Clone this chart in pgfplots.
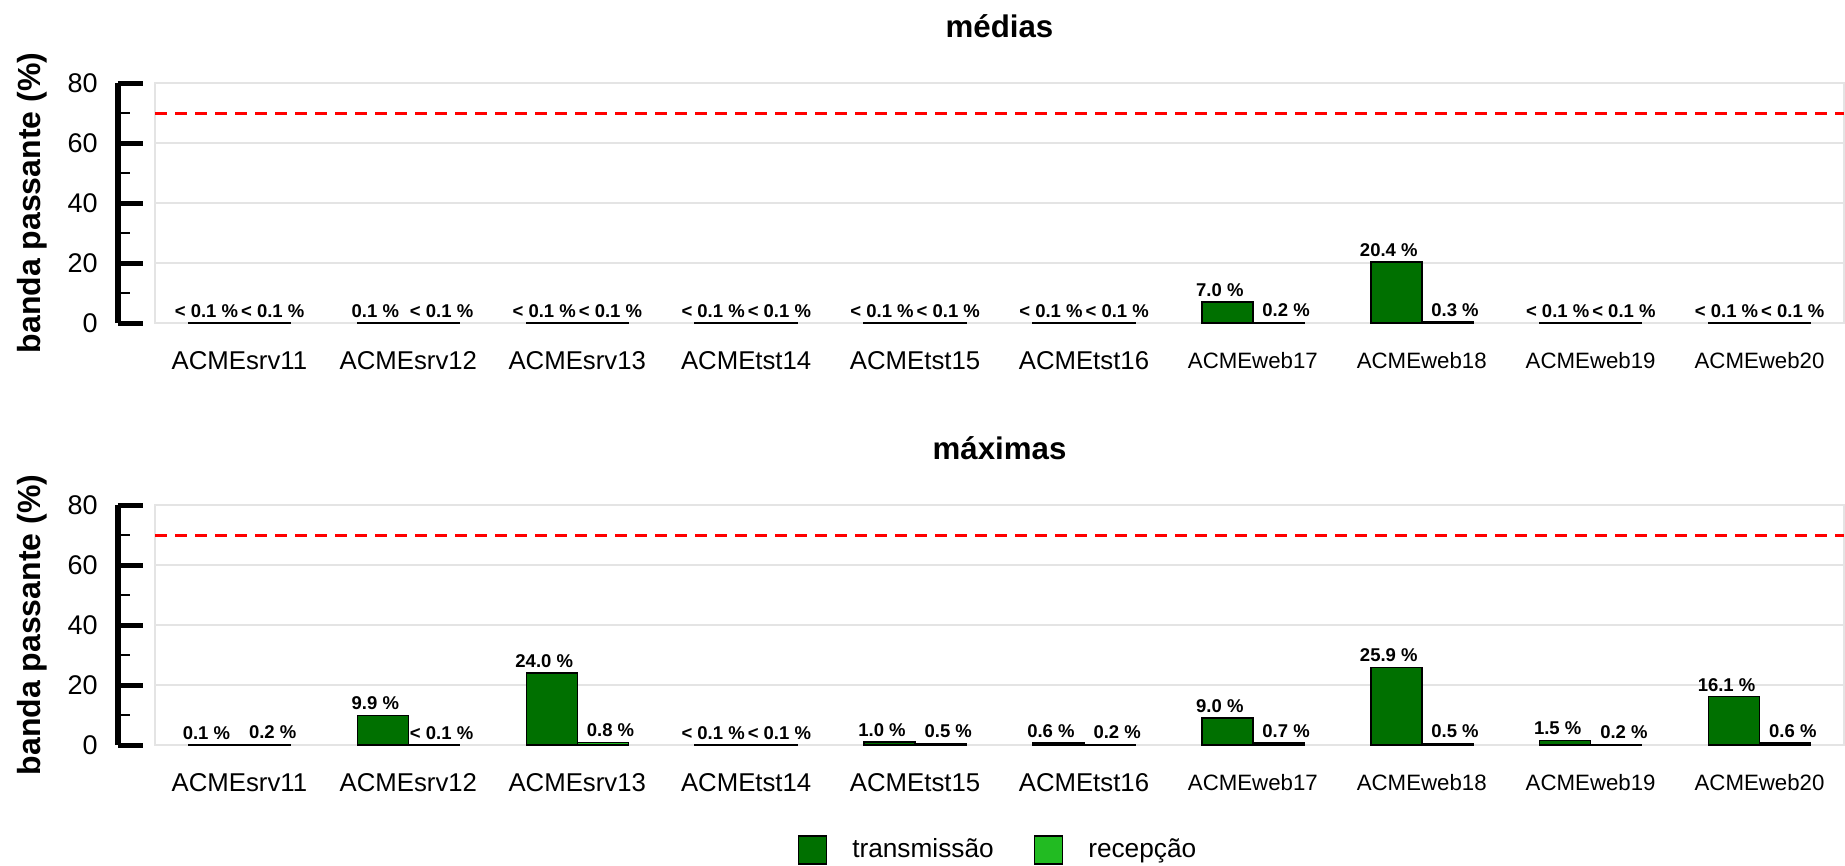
\documentclass[border=0pt]{standalone}
\usepackage{fontspec}
\setmainfont{Liberation Sans}
\usepackage{pgfplots}
\pgfplotsset{compat=1.18}

\definecolor{txc}{RGB}{0,112,0}
\definecolor{rxc}{RGB}{34,187,34}
\definecolor{gridc}{RGB}{228,228,228}

\pgfplotsset{
  mainax/.style={
    scale only axis, width=675.6pt, height=96pt, anchor=south west,
    xmin=-0.5, xmax=9.5, ymin=0, ymax=80,
    ybar=0pt, bar width=20.4pt,
    axis line style={draw=gridc, line width=0.6pt},
    ymajorgrids, grid style={draw=gridc, line width=0.6pt},
    ytick={0,20,40,60,80}, yticklabels={},
    major tick length=0pt, tick style={draw=none},
    xtick={0,...,9},
    xticklabels={ACMEsrv11,ACMEsrv12,ACMEsrv13,ACMEtst14,ACMEtst15,ACMEtst16,
      {\fontsize{8.9}{10}\selectfont ACMEweb17},{\fontsize{8.9}{10}\selectfont ACMEweb18},
      {\fontsize{8.9}{10}\selectfont ACMEweb19},{\fontsize{8.9}{10}\selectfont ACMEweb20}},
    xticklabel style={font=\fontsize{10.3}{12}\selectfont, anchor=center, inner sep=0pt, yshift=-15.2pt},
    every axis title/.style={at={(rel axis cs:0.5,1)}, anchor=center, yshift=22.8pt,
      font=\bfseries\fontsize{12.5}{15}\selectfont},
    clip=false,
  },
  yax/.style={
    scale only axis, width=10pt, height=96pt, anchor=south west,
    xmin=0, xmax=1, ymin=0, ymax=80,
    axis x line=none, axis y line=left,
    axis line style={line width=2.2pt, -, black},
    ytick={0,20,40,60,80}, yticklabels={0,20,40,60,80},
    minor ytick={10,30,50,70},
    tick align=inside, major tick length=10pt, minor tick length=5pt,
    every major tick/.style={line width=2pt, black},
    every minor tick/.style={line width=1.1pt, black},
    /pgf/number format/assume math mode=true,
    yticklabel style={font=\fontsize{10.8}{13}\selectfont, inner sep=0pt, xshift=-7.9pt},
    ylabel={banda passante (\%)},
    every axis y label/.style={at={(rel axis cs:0,0.5)}, anchor=center, xshift=-34.4pt, rotate=90,
      font=\bfseries\fontsize{12.8}{15}\selectfont},
  },
  barlbl/.style={point meta=explicit symbolic, nodes near coords,
    nodes near coords style={font=\bfseries\fontsize{7.4}{8}\selectfont, inner sep=0pt, anchor=south, yshift=1.9pt, xshift=#1}},
  txbar/.style={fill=txc, draw=black, line width=0.6pt, bar shift=-10.2pt, barlbl=-3pt},
  rxbar/.style={fill=rxc, draw=black, line width=0.6pt, bar shift=10.2pt, barlbl=3.1pt},
  limline/.style={sharp plot, red, line width=1.2pt, dash pattern=on 4.8pt off 3.2pt, forget plot},
}

\begin{document}
\begin{tikzpicture}
\useasboundingbox (0,0) rectangle (738pt,346pt);

% ---------- top: medias ----------
\begin{axis}[mainax, at={(62pt,216.8pt)}, title={médias}]
\addplot[limline] coordinates {(-0.5,70) (9.5,70)};
\addplot[txbar] coordinates {
 (0,0.05) [{< 0.1 \%}] (1,0.1) [{0.1 \%}] (2,0.05) [{< 0.1 \%}] (3,0.05) [{< 0.1 \%}]
 (4,0.05) [{< 0.1 \%}] (5,0.05) [{< 0.1 \%}] (6,7.0) [{7.0 \%}] (7,20.4) [{20.4 \%}]
 (8,0.05) [{< 0.1 \%}] (9,0.05) [{< 0.1 \%}]};
\addplot[rxbar] coordinates {
 (0,0.05) [{< 0.1 \%}] (1,0.05) [{< 0.1 \%}] (2,0.05) [{< 0.1 \%}] (3,0.05) [{< 0.1 \%}]
 (4,0.05) [{< 0.1 \%}] (5,0.05) [{< 0.1 \%}] (6,0.2) [{0.2 \%}] (7,0.3) [{0.3 \%}]
 (8,0.05) [{< 0.1 \%}] (9,0.05) [{< 0.1 \%}]};
\end{axis}
\begin{axis}[yax, at={(47.2pt,216.8pt)}]
\end{axis}

% ---------- bottom: maximas ----------
\begin{axis}[mainax, at={(62pt,48pt)}, title={máximas},
  legend columns=2,
  legend style={at={(rel axis cs:0.5,-0.4375)}, anchor=center, draw=none, fill=none,
    font=\fontsize{10.5}{12}\selectfont, inner sep=0pt,
    /tikz/every odd column/.append style={column sep=8pt},
    /tikz/every even column/.append style={column sep=14pt}},
  legend cell align=left]
\addplot[limline] coordinates {(-0.5,70) (9.5,70)};
\addplot[txbar, legend image code/.code={\draw[fill=txc, draw=black, line width=0.6pt] (0pt,-5.6pt) rectangle (11.2pt,5.6pt);}] coordinates {
 (0,0.1) [{0.1 \%}] (1,9.9) [{9.9 \%}] (2,24.0) [{24.0 \%}] (3,0.05) [{< 0.1 \%}]
 (4,1.0) [{1.0 \%}] (5,0.6) [{0.6 \%}] (6,9.0) [{9.0 \%}] (7,25.9) [{25.9 \%}]
 (8,1.5) [{1.5 \%}] (9,16.1) [{16.1 \%}]};
\addlegendentry{transmissão}
\addplot[rxbar, legend image code/.code={\draw[fill=rxc, draw=black, line width=0.6pt] (0pt,-5.6pt) rectangle (11.2pt,5.6pt);}] coordinates {
 (0,0.2) [{0.2 \%}] (1,0.05) [{< 0.1 \%}] (2,0.8) [{0.8 \%}] (3,0.05) [{< 0.1 \%}]
 (4,0.5) [{0.5 \%}] (5,0.2) [{0.2 \%}] (6,0.7) [{0.7 \%}] (7,0.5) [{0.5 \%}]
 (8,0.2) [{0.2 \%}] (9,0.6) [{0.6 \%}]};
\addlegendentry{recepção}
\end{axis}
\begin{axis}[yax, at={(47.2pt,48pt)}]
\end{axis}
\end{tikzpicture}
\end{document}
